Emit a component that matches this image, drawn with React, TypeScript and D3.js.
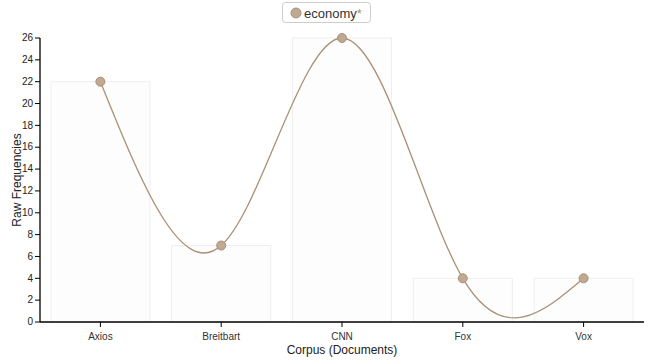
import React from "react";
import * as d3 from "d3";

const categories = ["Axios", "Breitbart", "CNN", "Fox", "Vox"];
const values = [22, 7, 26, 4, 4];
const yTicks = [0, 2, 4, 6, 8, 10, 12, 14, 16, 18, 20, 22, 24, 26];
const seriesName = "economy";

const W = 654, H = 364;
const left = 40, right = 644, top = 38, bottom = 322;
const FONT = "'Liberation Sans', Arial, sans-serif";

export default function App() {
  const x = d3.scaleBand().domain(categories).range([left, right]).paddingInner(0.18).paddingOuter(0.09);
  const y = d3.scaleLinear().domain([0, 26]).range([bottom, top]);
  const line = d3.line<number>()
    .x((_, i) => (x(categories[i]) as number) + x.bandwidth() / 2)
    .y((d) => y(d))
    .curve(d3.curveNatural);
  const color = "#bfa991";
  const stroke = "#a99078";
  return (
    <svg width={W} height={H} style={{ position: "absolute", left: 0, top: 0, fontFamily: FONT }}>
      {/* bars */}
      {categories.map((c, i) => (
        <rect key={c} x={x(c)} y={y(values[i])} width={x.bandwidth()} height={bottom - y(values[i])}
          fill="#fdfdfd" stroke="#f0efee" strokeWidth={1} />
      ))}
      {/* y axis */}
      <line x1={left} x2={left} y1={top} y2={bottom} stroke="#000" strokeWidth={1.3} />
      {yTicks.map((t) => (
        <g key={t} transform={`translate(${left},${y(t)})`}>
          <line x1={-5} x2={0} stroke="#000" />
          <text x={-7} dy="0.32em" textAnchor="end" fontSize={10} fill="#222">{t}</text>
        </g>
      ))}
      {/* x axis */}
      <line x1={left} x2={right} y1={bottom} y2={bottom} stroke="#000" strokeWidth={1.3} />
      {categories.map((c) => {
        const cx = (x(c) as number) + x.bandwidth() / 2;
        return (
          <g key={c} transform={`translate(${cx},${bottom})`}>
            <line y1={0} y2={5} stroke="#000" />
            <text y={18} textAnchor="middle" fontSize={10} fill="#333">{c}</text>
          </g>
        );
      })}
      <text x={(left + right) / 2} y={354} textAnchor="middle" fontSize={12} fill="#222">Corpus (Documents)</text>
      <text transform={`translate(21,${(top + bottom) / 2}) rotate(-90)`} textAnchor="middle" fontSize={12} fill="#222">Raw Frequencies</text>
      {/* line */}
      <path d={line(values) || ""} fill="none" stroke={stroke} strokeWidth={1.3} />
      {values.map((v, i) => (
        <circle key={i} cx={(x(categories[i]) as number) + x.bandwidth() / 2} cy={y(v)} r={4.5}
          fill={color} stroke={stroke} strokeWidth={1} />
      ))}
      {/* legend */}
      <rect x={282.5} y={2.5} width={88} height={20} rx={3} fill="#fff" stroke="#ccc" />
      <circle cx={296} cy={13} r={5} fill={color} stroke={stroke} />
      <text x={304} y={17.5} fontSize={13} fill="#333">{seriesName}<tspan fill="#b09070">*</tspan></text>
    </svg>
  );
}
